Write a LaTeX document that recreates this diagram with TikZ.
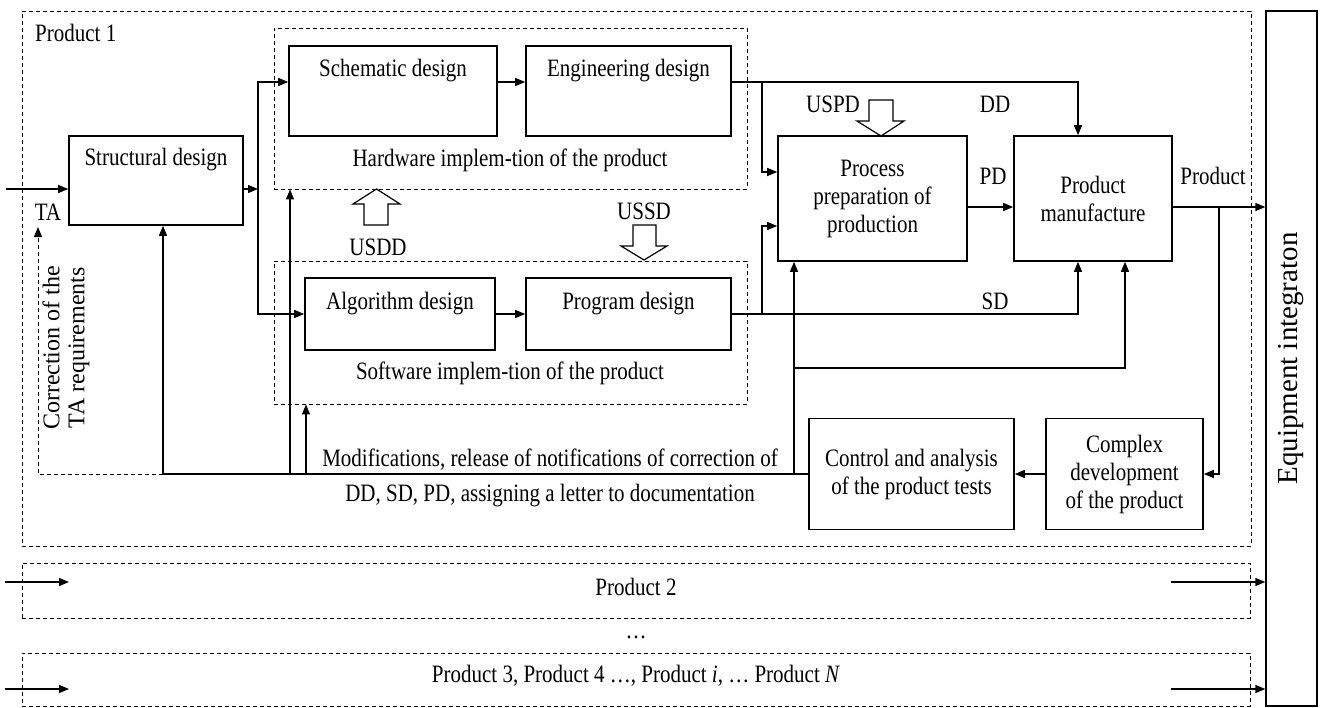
\documentclass[tikz,border=0pt]{standalone}
\usepackage{fontspec}
\setmainfont[FakeStretch=0.84]{Liberation Serif}
\newfontfamily\rotfont{Liberation Serif}
\usetikzlibrary{arrows.meta,calc}

\tikzset{
  blk/.style={draw, line width=1.6pt, inner sep=0pt, align=center, font=\fontsize{25}{28}\selectfont},
  grp/.style={draw, line width=0.9pt, dash pattern=on 4pt off 3pt, inner sep=0pt},
  ln/.style={line width=1.3pt},
  arr/.style={ln, -{Triangle[length=10pt,width=8pt]}},
  txt/.style={font=\fontsize{25}{28}\selectfont, align=center, inner sep=0pt},
  hollow/.style={draw, line width=1.2pt, fill=white}
}

\begin{document}
\begin{tikzpicture}[x=1pt,y=-1pt]
\useasboundingbox (0,0) rectangle (1320,707);

% groups
\node[grp, minimum width=1229pt, minimum height=535pt] (prod1) at (636.5,278.5) {};
\node[grp, minimum width=473pt, minimum height=161pt] (hw) at (510.5,108.5) {};
\node[grp, minimum width=473pt, minimum height=143pt] (sw) at (510.5,332.5) {};
\node[grp, minimum width=1228pt, minimum height=55pt] (prod2) at (636,590.5) {};
\node[grp, minimum width=1228pt, minimum height=53pt] (prodN) at (636,679.5) {};

% blocks
\node[blk, minimum width=174pt, minimum height=89pt] (struct) at (156,180.5) {};
\node[blk, minimum width=208pt, minimum height=90pt] (schem) at (393,91) {};
\node[blk, minimum width=205pt, minimum height=90pt] (engin) at (628.5,91) {};
\node[blk, minimum width=190pt, minimum height=72pt] (algo) at (400,314) {};
\node[blk, minimum width=205pt, minimum height=72pt] (prog) at (628.5,314) {};
\node[blk, minimum width=189pt, minimum height=125pt] (proc) at (872.5,198.5) {Process\\preparation of\\production};
\node[blk, minimum width=158pt, minimum height=125pt] (manuf) at (1093,198.5) {Product\\manufacture};
\node[blk, minimum width=205pt, minimum height=111pt] (ctrl) at (911.5,474) {Control and analysis\\of the product tests};
\node[blk, minimum width=157pt, minimum height=111pt] (cplx) at (1124.5,474) {Complex\\development\\of the product};
\node[blk, line width=1.3pt, minimum width=51pt, minimum height=695pt] (equip) at (1291.5,358.5) {};

% titles
\node[txt, anchor=west] at (35,33) {Product 1};
\node[txt] at (156,160) {Structural design};
\node[txt] at (393,71) {Schematic design};
\node[txt] at (628.5,71) {Engineering design};
\node[txt] at (510,160) {Hardware implem-tion of the product};
\node[txt] at (400,304) {Algorithm design};
\node[txt] at (628.5,304) {Program design};
\node[txt] at (510,373) {Software implem-tion of the product};
\node[txt, rotate=90, font=\rotfont\fontsize{24}{25}\selectfont] at (66,348) {Correction of the\\TA requirements};
\node[txt, rotate=90, font=\rotfont\fontsize{29}{30}\selectfont] at (equip) {Equipment integraton};

% points
\coordinate (in1) at (6,189);
\coordinate (sp) at (258,189);
\coordinate (sp1) at (258,82);
\coordinate (sp2) at (258,314);
\coordinate (br1) at (762,82);
\coordinate (br2) at (762,314);
\coordinate (dd) at (1078,82);
\coordinate (sd) at (1078,314);
\coordinate (pd) at (967,207);
\coordinate (outp) at (1219,207);
\coordinate (ta) at (38,474);
\coordinate (fbA) at (163,474);
\coordinate (fbB) at (290,474);
\coordinate (fbC) at (306,474);
\coordinate (fbD) at (794,474);
\coordinate (fbE) at (794,368);
\coordinate (fbF) at (1125,368);

% design flow
\draw[arr] (in1) -- (struct.west |- in1);
\draw[arr] (struct.east |- sp) -- (sp);
\draw[arr] (sp) -- (sp1) -- (schem.west |- sp1);
\draw[arr] (sp) -- (sp2) -- (algo.west);
\draw[arr] (schem.east |- sp1) -- (engin.west |- sp1);
\draw[arr] (algo) -- (prog);
\draw[arr] (engin.east |- dd) -- (dd) -- (dd |- manuf.north);
\draw[arr] (br1) |- ($(proc.west)+(0,-26.5)$);
\draw[arr] (prog.east) -- (sd) -- (sd |- manuf.south);
\draw[arr] (br2) |- ($(proc.west)+(0,27.5)$);
\draw[arr] (pd) -- (manuf.west |- pd);
\draw[arr] (manuf.east |- outp) -- (equip.west |- outp);
\draw[arr] (outp) |- (cplx.east);
\draw[arr] (cplx) -- (ctrl);

% feedback
\draw[ln] (ctrl.west) -- (fbA);
\draw[arr, line width=1pt, dash pattern=on 4pt off 3pt] (fbA) -- (ta) -- (38,227);
\draw[arr] (fbA) -- (fbA |- struct.south);
\draw[arr] (fbB) -- (fbB |- hw.south);
\draw[arr] (fbC) -- (fbC |- sw.south);
\draw[arr] (fbD) -- (fbD |- proc.south);
\draw[arr] (fbE) -- (fbF) -- (fbF |- manuf.south);

% other products
\coordinate (p2a) at (5,582);   \coordinate (p2b) at (69,582);   \coordinate (p2c) at (1171,582);
\coordinate (pNa) at (5,689);   \coordinate (pNb) at (69,689);   \coordinate (pNc) at (1171,689);
\draw[arr] (p2a) -- (p2b);
\draw[arr] (p2c) -- (equip.west |- p2c);
\draw[arr] (pNa) -- (pNb);
\draw[arr] (pNc) -- (equip.west |- pNc);

% hollow arrows
\draw[hollow] (364,225) -- (364,204) -- (353,204) -- (376.5,189) -- (400,204) -- (388,204) -- (388,225) -- cycle;
\draw[hollow] (633,225) -- (633,246) -- (621,246) -- (644,260) -- (667,246) -- (656,246) -- (656,225) -- cycle;
\draw[hollow] (869,100) -- (869,121) -- (857,121) -- (881,136) -- (904,121) -- (893,121) -- (893,100) -- cycle;

% labels
\node[txt] at (48,212) {TA};
\node[txt] at (378,247) {USDD};
\node[txt] at (644,211) {USSD};
\node[txt] at (833,104) {USPD};
\node[txt] at (995,104) {DD};
\node[txt] at (993,176) {PD};
\node[txt] at (995,301) {SD};
\node[txt] at (1213,176) {Product};
\node[txt] at (550,460) {Modifications, release of notifications of correction of};
\node[txt] at (550,496) {DD, SD, PD, assigning a letter to documentation};
\node[txt] at (636,587) {Product 2};
\node[txt] at (636,637) {…};
\node[txt] at (636,676) {Product 3, Product 4 …, Product \textit{i}, … Product \textit{N}};

\end{tikzpicture}
\end{document}
